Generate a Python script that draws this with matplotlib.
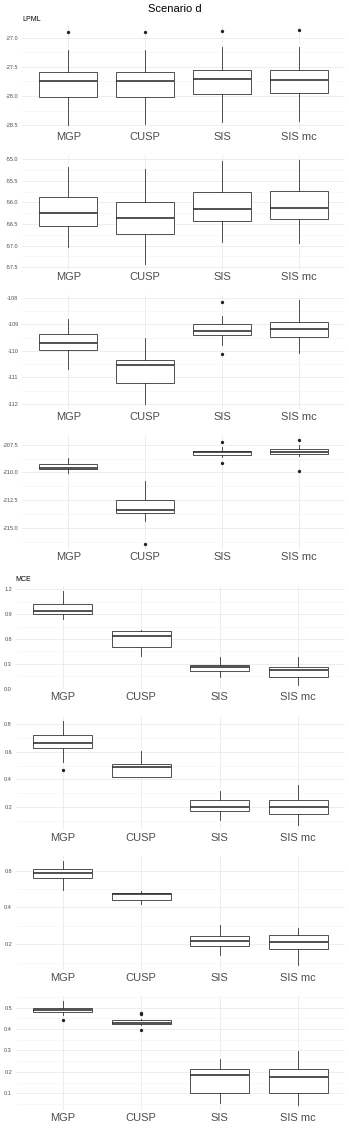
import numpy as np
import matplotlib
matplotlib.use("Agg")
import matplotlib.pyplot as plt

plt.rcParams['font.family'] = ['Liberation Sans', 'DejaVu Sans']
plt.rcParams['axes.unicode_minus'] = False

categories = ["MGP", "CUSP", "SIS", "SIS mc"]

# ---- LPML panels ----
p1_lo  = [-28.49, -28.48, -28.44, -28.43]
p1_q1  = [-28.01, -28.01, -27.96, -27.95]
p1_med = [-27.74, -27.75, -27.71, -27.72]
p1_q3  = [-27.59, -27.58, -27.56, -27.56]
p1_hi  = [-27.21, -27.21, -27.16, -27.16]
p1_out = [[-26.91], [-26.91], [-26.89], [-26.87]]
p1_ticks = [-28.5, -28.0, -27.5, -27.0]

p2_lo  = [-57.03, -57.43, -56.91, -56.95]
p2_q1  = [-56.55, -56.74, -56.42, -56.38]
p2_med = [-56.24, -56.35, -56.15, -56.12]
p2_q3  = [-55.87, -56.00, -55.75, -55.73]
p2_hi  = [-55.18, -55.24, -55.05, -55.02]
p2_out = [[], [], [], []]
p2_ticks = [-57.5, -57.0, -56.5, -56.0, -55.5, -55.0]

p3_lo  = [-110.68, -112.01, -109.78, -110.09]
p3_q1  = [-109.97, -111.23, -109.41, -109.47]
p3_med = [-109.71, -110.54, -109.27, -109.16]
p3_q3  = [-109.37, -110.35, -108.97, -108.91]
p3_hi  = [-108.79, -109.52, -108.68, -108.10]
p3_out = [[], [], [-108.14, -110.11], []]
p3_ticks = [-112, -111, -110, -109, -108]

p4_lo  = [-210.03, -214.37, -208.58, -208.52]
p4_q1  = [-209.72, -213.67, -208.40, -208.34]
p4_med = [-209.58, -213.40, -208.16, -208.13]
p4_q3  = [-209.27, -212.50, -208.04, -207.89]
p4_hi  = [-208.73, -210.78, -207.68, -207.50]
p4_out = [[], [-216.50], [-207.23, -209.13], [-207.10, -209.88]]
p4_ticks = [-215.0, -212.5, -210.0, -207.5]

# ---- MCE panels ----
p5_lo  = [0.839, 0.389, 0.141, 0.048]
p5_q1  = [0.900, 0.502, 0.213, 0.141]
p5_med = [0.935, 0.638, 0.261, 0.229]
p5_q3  = [1.027, 0.695, 0.289, 0.265]
p5_hi  = [1.180, 0.707, 0.382, 0.382]
p5_out = [[], [], [], []]
p5_ticks = [0.0, 0.3, 0.6, 0.9, 1.2]

p6_lo  = [0.529, 0.416, 0.109, 0.073]
p6_q1  = [0.625, 0.416, 0.176, 0.150]
p6_med = [0.665, 0.488, 0.200, 0.202]
p6_q3  = [0.719, 0.510, 0.253, 0.253]
p6_hi  = [0.819, 0.608, 0.318, 0.359]
p6_out = [[0.469], [], [], []]
p6_ticks = [0.2, 0.4, 0.6, 0.8]

p7_lo  = [0.495, 0.417, 0.143, 0.087]
p7_q1  = [0.560, 0.441, 0.189, 0.176]
p7_med = [0.586, 0.475, 0.216, 0.211]
p7_q3  = [0.611, 0.480, 0.247, 0.252]
p7_hi  = [0.653, 0.490, 0.303, 0.290]
p7_out = [[], [], [], []]
p7_ticks = [0.2, 0.4, 0.6]

p8_lo  = [0.467, 0.419, 0.053, 0.045]
p8_q1  = [0.478, 0.425, 0.101, 0.103]
p8_med = [0.489, 0.430, 0.184, 0.176]
p8_q3  = [0.500, 0.441, 0.215, 0.212]
p8_hi  = [0.531, 0.446, 0.259, 0.299]
p8_out = [[0.444], [0.475, 0.469, 0.396], [], []]
p8_ticks = [0.1, 0.2, 0.3, 0.4, 0.5]

panels = [
    (p1_lo, p1_q1, p1_med, p1_q3, p1_hi, p1_out, p1_ticks, 1),
    (p2_lo, p2_q1, p2_med, p2_q3, p2_hi, p2_out, p2_ticks, 1),
    (p3_lo, p3_q1, p3_med, p3_q3, p3_hi, p3_out, p3_ticks, 0),
    (p4_lo, p4_q1, p4_med, p4_q3, p4_hi, p4_out, p4_ticks, 1),
    (p5_lo, p5_q1, p5_med, p5_q3, p5_hi, p5_out, p5_ticks, 1),
    (p6_lo, p6_q1, p6_med, p6_q3, p6_hi, p6_out, p6_ticks, 1),
    (p7_lo, p7_q1, p7_med, p7_q3, p7_hi, p7_out, p7_ticks, 1),
    (p8_lo, p8_q1, p8_med, p8_q3, p8_hi, p8_out, p8_ticks, 1),
]

W, H = 349, 1133
fig = plt.figure(figsize=(W / 100, H / 100), dpi=100)

# panel pixel extents (top, bottom)
extents = [(25.4, 129.4), (154.7, 269.5), (295.3, 409.3), (435.1, 549.5),
           (586.3, 689.3), (716.1, 830.1), (855.8, 970.2), (995.9, 1110.2)]
lefts = [22.1] * 4 + [15.6] * 4
right = 345.2

edge = '#333333'
for i, (lo, q1, med, q3, hi, out, ticks, dec) in enumerate(panels):
    top, bot = extents[i]
    left = lefts[i]
    ax = fig.add_axes([left / W, 1 - bot / H, (right - left) / W, (bot - top) / H])
    stats = []
    for j in range(4):
        stats.append(dict(whislo=lo[j], q1=q1[j], med=med[j], q3=q3[j],
                          whishi=hi[j], fliers=out[j]))
    ax.bxp(stats, positions=[1, 2, 3, 4], widths=0.75, showcaps=False,
           patch_artist=True,
           boxprops=dict(facecolor='white', edgecolor=edge, linewidth=0.6),
           whiskerprops=dict(color=edge, linewidth=0.6),
           medianprops=dict(color=edge, linewidth=1.2),
           flierprops=dict(marker='o', markerfacecolor='#222222',
                           markeredgecolor='none', markersize=2.4))
    ax.margins(y=0.05)
    ax.set_xlim(0.4, 4.6)
    ymin, ymax = ax.get_ylim()
    ax.set_ylim(ymin, ymax)
    ax.set_xticks([1, 2, 3, 4])
    ax.set_xticklabels(categories)
    ax.set_yticks(ticks)
    ax.set_yticklabels([f"{t:.{dec}f}" for t in ticks])
    step = ticks[1] - ticks[0]
    minors = np.arange(ticks[0] - step * 5.5, ticks[-1] + step * 5.5, step)
    minors = [m for m in minors if ymin <= m <= ymax]
    ax.set_yticks(minors, minor=True)
    ax.set_axisbelow(True)
    ax.grid(which='major', axis='both', color='#ebebeb', linewidth=0.6)
    ax.grid(which='minor', axis='y', color='#f3f3f3', linewidth=0.4)
    for s in ax.spines.values():
        s.set_visible(False)
    ax.tick_params(axis='x', length=0, pad=1.8, labelsize=8, labelcolor='#4d4d4d')
    ax.tick_params(axis='y', which='both', length=0, pad=2.6, labelsize=4,
                   labelcolor='#4d4d4d')
    ax.set_facecolor('white')

fig.text(0.5, 1 - 8.7 / H, "Scenario d", ha='center', va='center', fontsize=8,
         color='black')
fig.text(22.1 / W, 1 - 19.5 / H, "LPML", ha='left', va='center', fontsize=5,
         color='black')
fig.text(15.6 / W, 1 - 579.7 / H, "MCE", ha='left', va='center', fontsize=5,
         color='black')

fig.savefig("out.png", dpi=100, facecolor='white')
